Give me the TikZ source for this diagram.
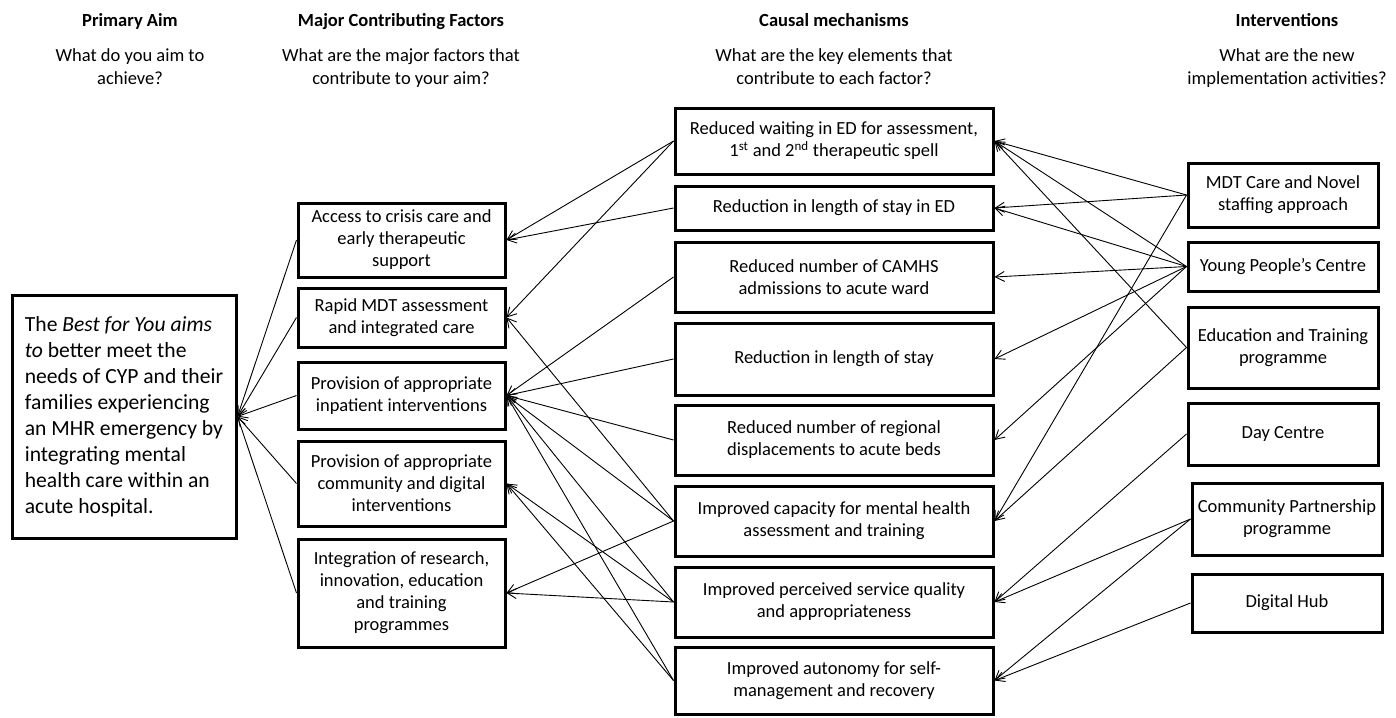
\documentclass[tikz,border=0pt]{standalone}
\usepackage{fontspec}
\setmainfont{Carlito}
\usetikzlibrary{arrows.meta}
\begin{document}
\begin{tikzpicture}[x=1pt,y=-1pt,
  box/.style={draw=black, line width=3pt, align=center, inner sep=2pt, font=\fontsize{18.5}{22}\selectfont},
  fbox/.style={box, minimum width=207pt},
  mbox/.style={box, minimum width=318pt},
  ibox/.style={box, minimum width=190pt},
  arr/.style={line width=0.9pt, -{Straight Barb[length=9pt,width=10pt,line width=0.9pt]}},
  hd/.style={anchor=base, font=\fontsize{18.5}{22}\selectfont\bfseries},
  qu/.style={anchor=base, align=center, font=\fontsize{18.5}{22.5}\selectfont}]
\useasboundingbox (0,0) rectangle (1396,717);

% headers
\node[hd] (h1) at (130,27) {Primary Aim};
\node[qu] (q1) at (130,84) {What do you aim to\\achieve?};
\node[hd] (h2) at (401,27) {Major Contributing Factors};
\node[qu] (q2) at (401,84) {What are the major factors that\\contribute to your aim?};
\node[hd] (h3) at (834,27) {Causal mechanisms};
\node[qu] (q3) at (834,84) {What are the key elements that\\contribute to each factor?};
\node[hd] (h4) at (1287,27) {Interventions};
\node[qu] (q4) at (1287,84) {What are the new\\implementation activities?};

% primary aim
\node[box, align=left, inner sep=0pt, minimum width=224pt, minimum height=243pt,
  font=\fontsize{21.6}{26}\selectfont] (aim) at (124,416.5)
  {The \textit{Best for You aims}\\\textit{to} better meet the\\needs of CYP and their\\families experiencing\\an MHR emergency by\\integrating mental\\health care within an\\acute hospital.};

% factors
\node[fbox, minimum height=74pt] (F1) at (401.5,240) {Access to crisis care and\\early therapeutic\\support};
\node[fbox, minimum height=59pt] (F2) at (401.5,317.5) {Rapid MDT assessment\\and integrated care};
\node[fbox, minimum height=67pt] (F3) at (401.5,395.5) {Provision of appropriate\\inpatient interventions};
\node[fbox, minimum height=85pt] (F4) at (401.5,483.5) {Provision of appropriate\\community and digital\\interventions};
\node[fbox, minimum height=108pt] (F5) at (401.5,593) {Integration of research,\\innovation, education\\and training\\programmes};

% mechanisms
\node[mbox, minimum height=66pt] (M1) at (834,141) {Reduced waiting in ED for assessment,\\1\textsuperscript{st} and 2\textsuperscript{nd} therapeutic spell};
\node[mbox, minimum height=44pt] (M2) at (834,208) {Reduction in length of stay in ED};
\node[mbox, minimum height=70pt] (M3) at (834,277) {Reduced number of CAMHS\\admissions to acute ward};
\node[mbox, minimum height=72pt] (M4) at (834,359) {Reduction in length of stay};
\node[mbox, minimum height=70pt] (M5) at (834,440) {Reduced number of regional\\displacements to acute beds};
\node[mbox, minimum height=70pt] (M6) at (834,521) {Improved capacity for mental health\\assessment and training};
\node[mbox, minimum height=70pt] (M7) at (834,602) {Improved perceived service quality\\and appropriateness};
\node[mbox, minimum height=67pt] (M8) at (834,680.5) {Improved autonomy for self-\\management and recovery};

% interventions
\node[ibox, minimum height=64pt] (I1) at (1283,195) {MDT Care and Novel\\staffing approach};
\node[ibox, minimum height=49pt] (I2) at (1283,266.5) {Young People’s Centre};
\node[ibox, minimum height=81pt] (I3) at (1283,347.5) {Education and Training\\programme};
\node[ibox, minimum height=62pt] (I4) at (1283,434) {Day Centre};
\node[ibox, minimum height=72pt] (I5) at (1287,519) {Community Partnership\\programme};
\node[ibox, minimum height=58pt] (I6) at (1287,603) {Digital Hub};

% factors -> aim
\foreach \f in {F1,F2,F3,F4,F5} \draw[arr] (\f.west) -- (aim.east);

% mechanisms -> factors
\draw[arr] (M1.west) -- (F1.east);
\draw[arr] (M1.west) -- (F2.east);
\draw[arr] (M2.west) -- (F1.east);
\draw[arr] (M3.west) -- (F3.east);
\draw[arr] (M4.west) -- (F3.east);
\draw[arr] (M5.west) -- (F3.east);
\draw[arr] (M6.west) -- (F2.east);
\draw[arr] (M6.west) -- (F3.east);
\draw[arr] (M6.west) -- (F5.east);
\draw[arr] (M7.west) -- (F3.east);
\draw[arr] (M7.west) -- (F4.east);
\draw[arr] (M7.west) -- (F5.east);
\draw[arr] (M8.west) -- (F3.east);
\draw[arr] (M8.west) -- (F4.east);

% interventions -> mechanisms
\draw[arr] (I1.west) -- (M1.east);
\draw[arr] (I1.west) -- (M2.east);
\draw[arr] (I1.west) -- (M6.east);
\draw[arr] (I2.west) -- (M1.east);
\draw[arr] (I2.west) -- (M2.east);
\draw[arr] (I2.west) -- (M3.east);
\draw[arr] (I2.west) -- (M4.east);
\draw[arr] (I2.west) -- (M5.east);
\draw[arr] (I3.west) -- (M1.east);
\draw[arr] (I3.west) -- (M6.east);
\draw[arr] (I4.west) -- (M7.east);
\draw[arr] (I5.west) -- (M7.east);
\draw[arr] (I5.west) -- (M8.east);
\draw[arr] (I6.west) -- (M8.east);
\end{tikzpicture}
\end{document}
